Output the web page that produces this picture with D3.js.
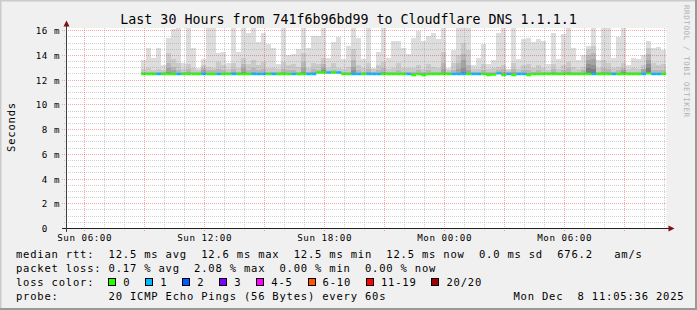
<!DOCTYPE html>
<html><head><meta charset="utf-8">
<script src="https://cdn.jsdelivr.net/npm/d3@7"></script>
<style>
html,body{margin:0;padding:0;background:#f0f0f0;}
svg{display:block;}
text{font-family:"DejaVu Sans Mono",monospace;fill:#000;}
</style></head><body>
<svg id="c" width="697" height="310"></svg>
<script>
// ---------- data ----------
const title = "Last 30 Hours from 741f6b96bd99 to Cloudflare DNS 1.1.1.1";
const yLabel = "Seconds";
const watermark = "RRDTOOL / TOBI OETIKER";
const timeStart = "2025-12-07T05:05:36Z";
const timeEnd   = "2025-12-08T11:05:36Z";
const binStart  = "2025-12-07T08:50:00Z";
const binMinutes = 15;
const yMax = 16.22;
const yTicks = [0, 2, 4, 6, 8, 10, 12, 14, 16];
const yTickLabels = ["0  ", "2 m", "4 m", "6 m", "8 m", "10 m", "12 m", "14 m", "16 m"];

// smoke: sorted ping tops (ms), outermost band first
const smokeMax = [13.6,14.6,13.8,14.6,13.2,15.4,16.1,16.4,13.4,16.4,
 14.6,13.0,13.7,16.4,16.4,14.2,14.25,13.4,16.4,14.25,
 16.4,15.8,16.3,15.1,15.8,14.9,14.6,13.3,16.4,14.0,
 14.1,14.5,16.4,14.6,15.6,15.6,16.4,13.8,15.1,15.5,
 13.7,14.8,16.4,15.45,13.7,16.4,13.0,14.25,16.4,13.8,
 15.2,15.2,14.6,14.1,15.45,15.95,15.2,15.6,15.8,15.3,
 16.4,13.0,14.4,16.4,16.4,16.4,13.2,13.8,14.9,13.3,
 13.6,15.8,16.4,12.9,16.4,13.7,15.3,15.45,15.1,15.3,
 15.2,13.3,15.8,13.7,15.75,16.4,14.6,13.6,14.0,14.8,
 16.4,13.6,16.4,16.4,13.8,15.5,16.3,13.2,13.8,13.7,
 14.0,15.2,14.6,14.65,14.4];
const smoke2 = [12.9,13.0,12.8,12.9,12.8,14.2,13.7,13.4,12.9,13.3,
 13.0,12.8,13.2,13.1,13.0,13.5,13.2,12.9,13.4,13.0,
 13.8,13.3,13.6,13.2,13.5,13.0,13.0,12.9,13.5,13.2,
 13.3,13.1,14.2,13.0,13.4,13.3,13.8,13.0,13.4,13.0,
 12.9,13.1,14.5,13.2,13.0,13.4,12.9,13.2,13.5,12.9,
 13.0,13.4,13.0,13.0,13.0,13.2,12.9,13.3,13.1,13.0,
 14.3,12.8,13.4,14.0,15.0,14.4,12.9,12.9,13.3,12.9,
 13.0,13.1,13.2,12.8,13.4,12.9,13.2,13.3,13.0,13.2,
 13.0,12.8,13.3,12.9,13.2,13.5,13.1,12.9,13.1,14.5,
 14.8,13.0,13.6,13.4,13.0,13.1,13.4,12.9,13.0,12.9,
 13.2,14.6,13.4,13.2,13.3];
const smoke3 = [12.7,12.7,12.7,12.7,12.7,13.4,13.1,12.8,12.7,12.9,
 12.7,12.7,13.0,12.8,12.8,12.9,12.8,12.7,12.9,12.7,
 13.3,12.8,13.0,12.8,12.9,12.7,12.7,12.7,12.9,12.8,
 12.8,12.7,13.5,12.7,12.9,12.8,13.3,12.7,12.8,12.7,
 12.7,12.7,13.6,12.8,12.7,12.9,12.7,12.8,13.0,12.7,
 12.7,12.8,12.7,12.7,12.7,12.8,12.7,12.8,12.7,12.7,
 13.4,12.7,12.8,13.4,14.1,13.2,12.7,12.7,12.8,12.7,
 12.7,12.8,12.9,12.7,12.9,12.7,12.8,12.8,12.7,12.8,
 12.7,12.7,12.9,12.7,12.8,13.0,12.7,12.7,12.8,14.0,
 14.2,12.7,13.0,12.9,12.7,12.8,13.0,12.7,12.7,12.7,
 12.9,14.1,12.8,12.8,12.8];
const smoke4 = [12.6,12.6,12.6,12.6,12.6,13.0,12.8,12.6,12.6,12.7,
 12.6,12.6,12.8,12.6,12.6,12.6,12.6,12.6,12.7,12.6,
 13.0,12.6,12.7,12.6,12.6,12.6,12.6,12.6,12.7,12.6,
 12.6,12.6,13.0,12.6,12.7,12.7,13.0,12.7,12.7,12.7,
 12.6,12.6,13.1,12.6,12.6,12.7,12.6,12.6,12.7,12.6,
 12.6,12.6,12.6,12.6,12.6,12.6,12.6,12.6,12.6,12.6,
 12.9,12.6,12.6,12.9,13.6,12.8,12.6,12.6,12.6,12.6,
 12.6,12.6,12.7,12.6,12.7,12.6,12.6,12.6,12.6,12.6,
 12.6,12.6,12.7,12.6,12.6,12.7,12.6,12.6,12.6,13.6,
 13.7,12.6,12.7,12.7,12.6,12.6,12.8,12.6,12.6,12.6,
 12.9,13.6,12.6,12.6,12.6];
const smoke5 = [12.5,12.5,12.5,12.5,12.5,12.7,12.6,12.5,12.5,12.5,
 12.5,12.5,12.5,12.5,12.5,12.5,12.5,12.5,12.5,12.5,
 12.7,12.5,12.5,12.5,12.5,12.5,12.5,12.5,12.5,12.5,
 12.5,12.5,12.7,12.5,12.5,12.5,12.8,12.5,12.5,12.5,
 12.5,12.5,12.8,12.5,12.5,12.5,12.5,12.5,12.5,12.5,
 12.5,12.5,12.5,12.5,12.5,12.5,12.5,12.5,12.5,12.5,
 12.6,12.5,12.5,12.6,13.0,12.5,12.5,12.5,12.5,12.5,
 12.5,12.5,12.5,12.5,12.5,12.5,12.5,12.5,12.5,12.5,
 12.5,12.5,12.5,12.5,12.5,12.5,12.5,12.5,12.5,13.3,
 13.2,12.5,12.5,12.5,12.5,12.5,12.7,12.5,12.5,12.5,
 12.6,13.3,12.5,12.5,12.5];
const smoke6 = [12.5,12.5,12.5,12.5,12.5,12.5,12.5,12.5,12.5,12.5,
 12.5,12.5,12.5,12.5,12.5,12.5,12.5,12.5,12.5,12.5,
 12.5,12.5,12.5,12.5,12.5,12.5,12.5,12.5,12.5,12.5,
 12.5,12.5,12.5,12.5,12.5,12.5,12.5,12.5,12.5,12.5,
 12.5,12.5,12.5,12.5,12.5,12.5,12.5,12.5,12.5,12.5,
 12.5,12.5,12.5,12.5,12.5,12.5,12.5,12.5,12.5,12.5,
 12.5,12.5,12.5,12.5,12.7,12.5,12.5,12.5,12.5,12.5,
 12.5,12.5,12.5,12.5,12.5,12.5,12.5,12.5,12.5,12.5,
 12.5,12.5,12.5,12.5,12.5,12.5,12.5,12.5,12.5,13.0,
 12.9,12.5,12.5,12.5,12.5,12.5,12.6,12.5,12.5,12.5,
 12.5,13.0,12.5,12.5,12.5];
const median = [12.5,12.5,12.5,12.5,12.5,12.5,12.5,12.5,12.5,12.5,
 12.5,12.5,12.5,12.5,12.5,12.5,12.5,12.5,12.5,12.5,
 12.5,12.5,12.5,12.5,12.5,12.5,12.5,12.5,12.5,12.5,
 12.5,12.5,12.5,12.5,12.5,12.62,12.62,12.62,12.62,12.62,
 12.5,12.5,12.5,12.5,12.5,12.5,12.5,12.5,12.5,12.5,
 12.5,12.5,12.5,12.5,12.42,12.5,12.42,12.5,12.5,12.5,
 12.5,12.5,12.5,12.5,12.5,12.5,12.5,12.5,12.5,12.42,
 12.45,12.55,12.42,12.5,12.42,12.5,12.5,12.42,12.5,12.5,
 12.5,12.5,12.5,12.5,12.5,12.5,12.5,12.5,12.5,12.5,
 12.5,12.5,12.5,12.5,12.5,12.5,12.5,12.5,12.5,12.5,
 12.5,12.55,12.5,12.5,12.5];
// lost packets per bin (of 20)
const loss = [0,0,0,1,0,0,0,1,0,0,
 0,0,1,0,0,1,0,0,1,0,
 0,0,1,1,1,0,1,0,0,0,
 1,0,0,1,1,0,0,1,0,1,
 0,0,1,1,0,1,1,1,0,0,
 0,0,0,1,0,0,0,0,0,0,
 0,0,1,1,1,0,1,1,0,0,
 0,1,0,1,0,1,1,0,0,0,
 0,0,0,0,0,0,0,0,0,0,
 1,0,0,0,1,0,0,0,0,0,
 1,0,1,1,0];

const lossLabels = ["0", "1", "2", "3", "4-5", "6-10", "11-19", "20/20"];
const lossUpper  = [0, 1, 2, 3, 5, 10, 19, 20];
const lossColors = ["#26ff00", "#00b8ff", "#0059ff", "#7e00ff", "#ff00ff", "#ff5500", "#ff0000", "#a10000"];
const smokeColors = ["#dddddd", "#cacaca", "#b7b7b7", "#a4a4a4", "#919191", "#7e7e7e"];

const statLines = [
  "median rtt:  12.5 ms avg  12.6 ms max  12.5 ms min  12.5 ms now  0.0 ms sd  676.2   am/s",
  "packet loss: 0.17 % avg  2.08 % max  0.00 % min  0.00 % now"
];
const lossTitle = "loss color:";
const probeLine = "probe:       20 ICMP Echo Pings (56 Bytes) every 60s";
const stamp = "Mon Dec  8 11:05:36 2025";

// ---------- drawing ----------
const nb = s => s.replace(/ /g, "\u00a0");
const svg = d3.select("#c");
const W = 697, H = 310;
const L = 66.5, R = 666.5, T = 28, B = 228.5;

svg.append("rect").attr("width", W).attr("height", H).attr("fill", "#f0f0f0");
svg.append("path").attr("d", `M0,${H} L0,0 L${W},0`).attr("fill","none").attr("stroke","#cbcbcb").attr("stroke-width",3);
svg.append("path").attr("d", `M${W},0 L${W},${H} L0,${H}`).attr("fill","none").attr("stroke","#999999").attr("stroke-width",4);

svg.append("rect").attr("x", L).attr("y", T).attr("width", R - L).attr("height", B - T).attr("fill", "#fff");

const x = d3.scaleUtc().domain([new Date(timeStart), new Date(timeEnd)]).range([L, R]);
const y = d3.scaleLinear().domain([0, yMax]).range([B, T]);

const t0 = new Date(binStart);
const bins = smokeMax.map((v, i) => {
  const s = d3.utcMinute.offset(t0, i * binMinutes);
  const e = d3.utcMinute.offset(t0, (i + 1) * binMinutes);
  return { s, e, med: median[i], tops: [smokeMax[i], smoke2[i], smoke3[i], smoke4[i], smoke5[i], smoke6[i]], loss: loss[i] };
});

svg.append("clipPath").attr("id", "clip").append("rect")
  .attr("x", L).attr("y", T).attr("width", R - L).attr("height", B - T);
const plot = svg.append("g").attr("clip-path", "url(#clip)");

smokeColors.forEach((col, band) => {
  plot.append("g").selectAll("rect")
    .data(bins.filter(d => d.tops[band] > d.med))
    .join("rect")
    .attr("x", d => x(d.s))
    .attr("width", d => x(d.e) - x(d.s))
    .attr("y", d => y(d.tops[band]))
    .attr("height", d => y(d.med) - y(d.tops[band]))
    .attr("fill", col)
    .attr("shape-rendering", "crispEdges");
});

// grid
const crisp = v => Math.floor(v) + 0.5;
const minorY = d3.range(0, yMax, 0.5).filter(v => v % 2 !== 0);
const grid = svg.append("g");
grid.selectAll(".hmin").data(minorY).join("line")
  .attr("x1", 64).attr("x2", R).attr("y1", d => crisp(y(d))).attr("y2", d => crisp(y(d)))
  .attr("stroke", "#8f8f8f").attr("stroke-opacity", 0.42).attr("stroke-dasharray", "1,1");
const hours = d3.utcHour.range(new Date(timeStart), new Date(timeEnd));
const minorX = hours.filter(d => d.getUTCHours() % 3 !== 0);
const majorX = hours.filter(d => d.getUTCHours() % 3 === 0);
grid.selectAll(".vmin").data(minorX).join("line")
  .attr("x1", d => crisp(x(d))).attr("x2", d => crisp(x(d))).attr("y1", T).attr("y2", B + 2)
  .attr("stroke", "#8f8f8f").attr("stroke-opacity", 0.42).attr("stroke-dasharray", "1,1");
grid.selectAll(".hmaj").data(yTicks.filter(v => v > 0)).join("line")
  .attr("x1", 62).attr("x2", R).attr("y1", d => crisp(y(d))).attr("y2", d => crisp(y(d)))
  .attr("stroke", "#e03030").attr("stroke-opacity", 0.4).attr("stroke-dasharray", "1,1");
grid.selectAll(".vmaj").data(majorX).join("line")
  .attr("x1", d => crisp(x(d))).attr("x2", d => crisp(x(d))).attr("y1", T).attr("y2", B + 3)
  .attr("stroke", "#e03030").attr("stroke-opacity", 0.4).attr("stroke-dasharray", "1,1");

// median line coloured by loss
const lossIdx = n => lossUpper.findIndex(u => n <= u);
plot.append("g").selectAll("line").data(bins).join("line")
  .attr("x1", d => x(d.s)).attr("x2", d => x(d.e))
  .attr("y1", d => y(d.med)).attr("y2", d => y(d.med))
  .attr("stroke", d => lossColors[lossIdx(d.loss)])
  .attr("stroke-width", 2.4);

// axes
svg.append("line").attr("x1", 62).attr("x2", 669).attr("y1", B).attr("y2", B).attr("stroke", "#202020");
svg.append("line").attr("x1", L).attr("x2", L).attr("y1", 232).attr("y2", 24).attr("stroke", "#404040");
svg.append("path").attr("d", `M${L},20.5 L${L - 3},26.5 L${L + 3},26.5 Z`).attr("fill", "#7f1010");
svg.append("path").attr("d", `M674.5,${B} L668.5,${B - 3} L668.5,${B + 3} Z`).attr("fill", "#7f1010");

// y tick labels
svg.append("g").selectAll("text").data(yTicks).join("text")
  .attr("x", 60).attr("y", d => crisp(y(d)) + 3.5)
  .attr("text-anchor", "end")
  .attr("font-size", 9.2).attr("letter-spacing", 0.55)
  .text((d, i) => nb(yTickLabels[i]));

// x tick labels
const xLabTicks = hours.filter(d => d.getUTCHours() % 6 === 0);
svg.append("g").selectAll("text").data(xLabTicks).join("text")
  .attr("x", d => x(d)).attr("y", 240.5)
  .attr("text-anchor", "middle")
  .attr("font-size", 9.2).attr("letter-spacing", 0.55)
  .text(d => d3.utcFormat("%a %H:%M")(d));

// title
svg.append("text").attr("x", 348.5).attr("y", 24).attr("text-anchor", "middle")
  .attr("font-size", 13.3).text(title);

// y label
svg.append("text").attr("transform", "translate(14.5,127) rotate(-90)")
  .attr("text-anchor", "middle").attr("font-size", 10.5).attr("letter-spacing", 0.8).text(yLabel);

// watermark
svg.append("text").attr("transform", "translate(684,5) rotate(90)")
  .attr("font-size", 7.6).attr("letter-spacing", 0.55).style("fill", "#b0b0b0").text(watermark);

// legend
const cw = 7.12, lx = 16;
const leg = svg.append("g").attr("font-size", 10.5).attr("letter-spacing", 0.8);
statLines.forEach((s, i) => leg.append("text").attr("x", lx).attr("y", 257.5 + i * 14).text(nb(s)));
leg.append("text").attr("x", lx).attr("y", 285.5).text(nb(lossTitle));
let bx = lx + 13 * cw - 0.3;
lossLabels.forEach((lab, i) => {
  leg.append("rect").attr("x", Math.round(bx) + 0.5).attr("y", 278.5).attr("width", 7).attr("height", 7)
    .attr("fill", lossColors[i]).attr("stroke", "#000");
  leg.append("text").attr("x", bx + 15).attr("y", 285.5).text(lab);
  bx += 29.9 + lab.length * cw;
});
leg.append("text").attr("x", lx).attr("y", 299.5).text(nb(probeLine));
leg.append("text").attr("x", 513.5).attr("y", 299.5).text(nb(stamp));
</script>
</body></html>
